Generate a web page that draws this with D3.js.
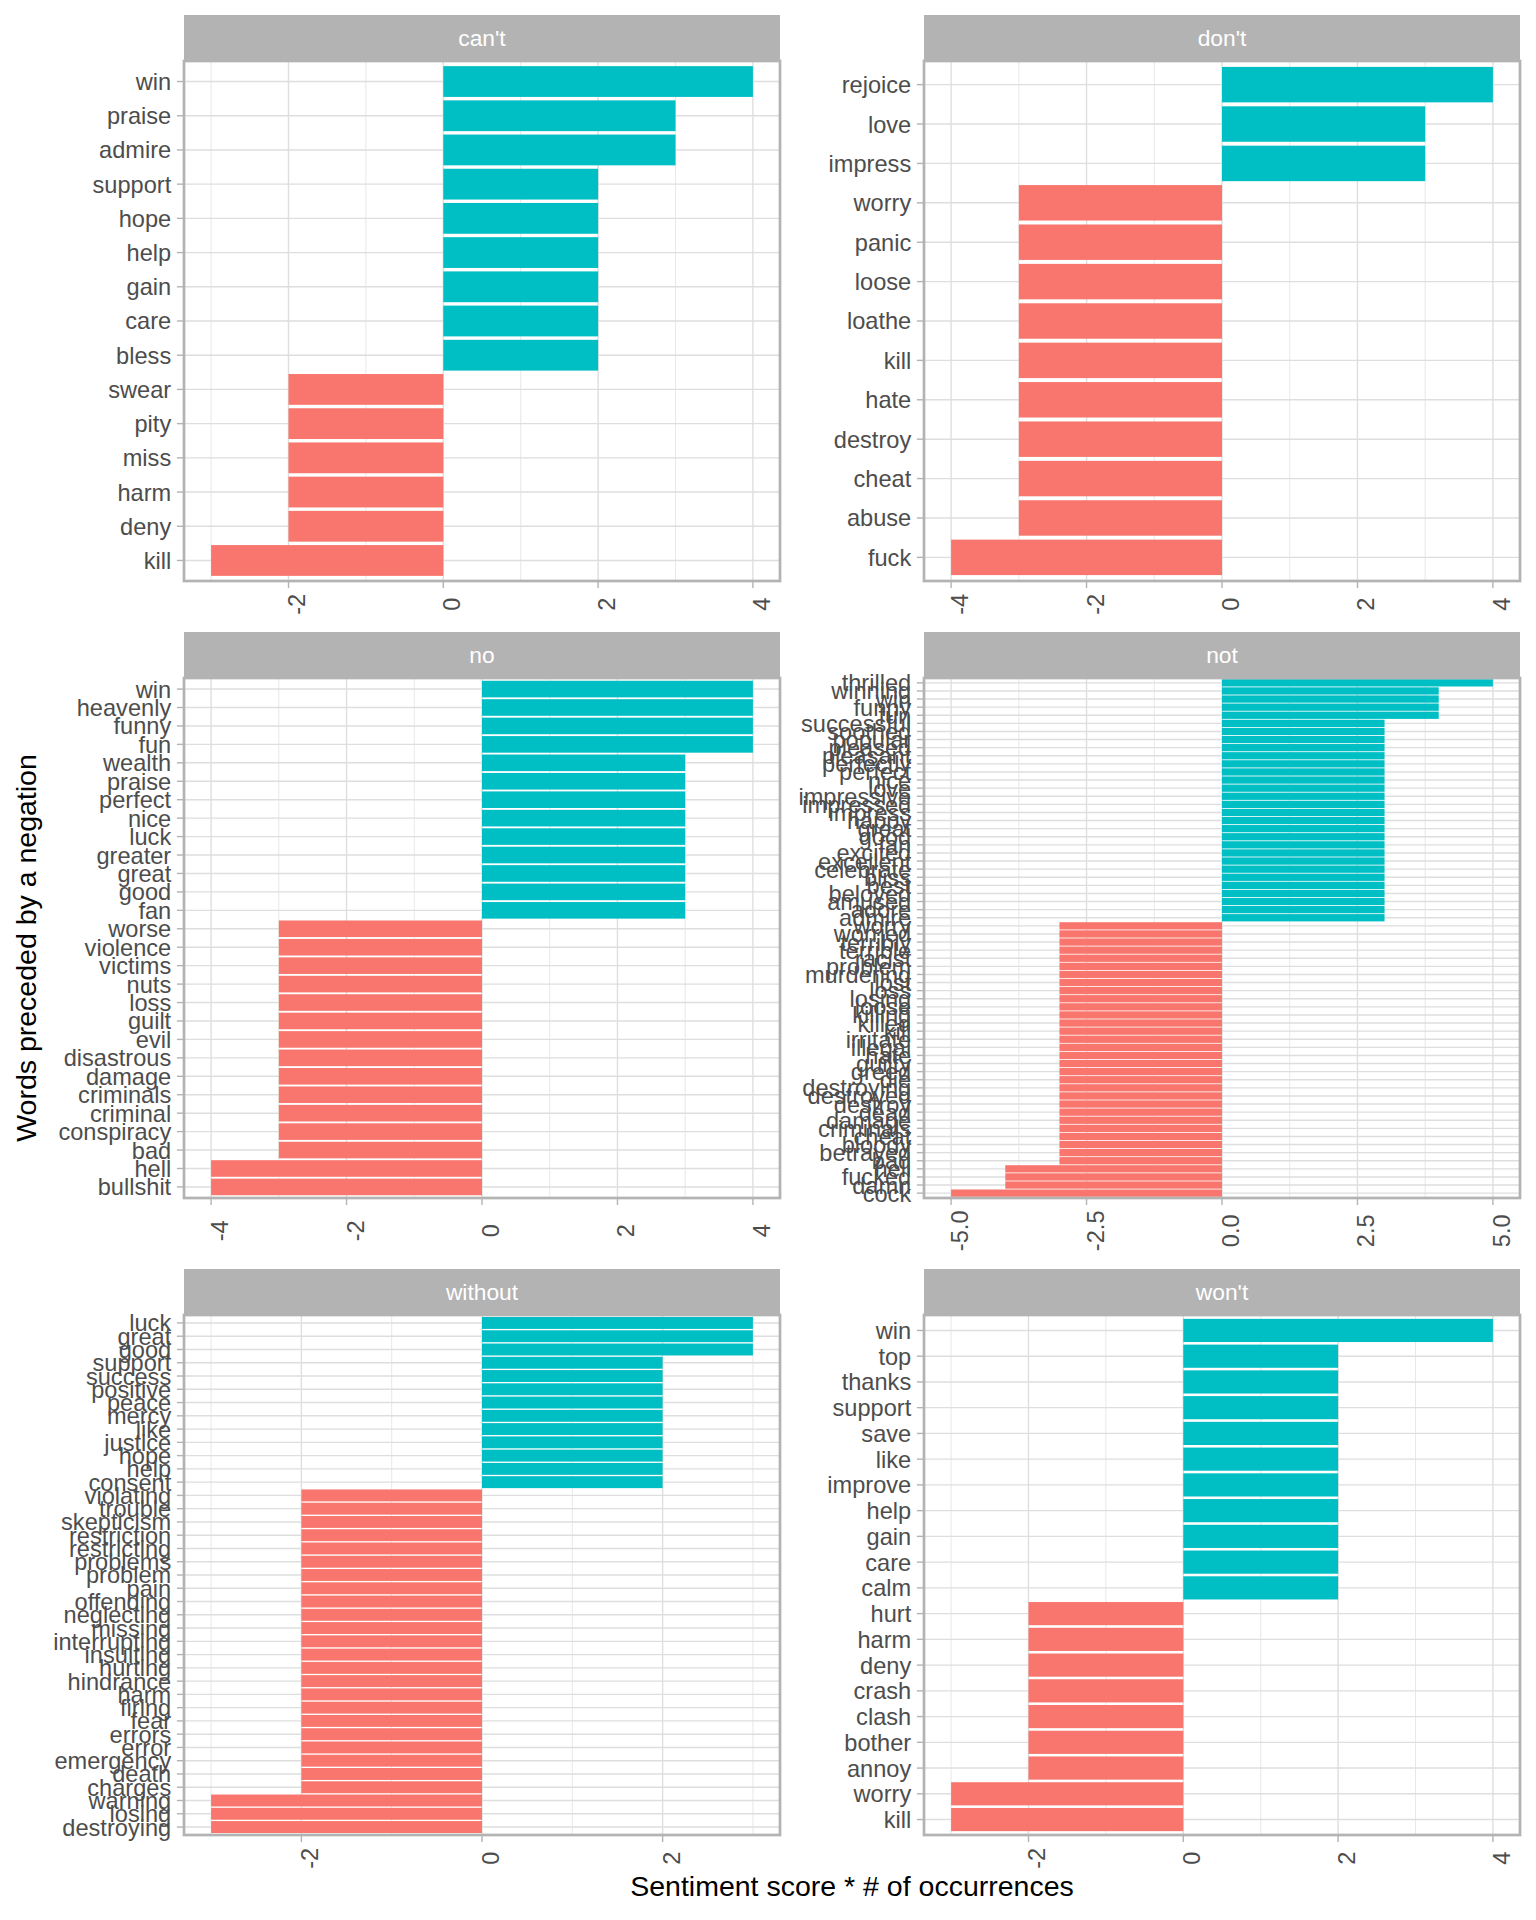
<!DOCTYPE html>
<html>
<head>
<meta charset="utf-8">
<script src="https://cdn.jsdelivr.net/npm/d3@7"></script>
<style>
  html, body { margin: 0; padding: 0; background: #fff; }
  svg { display: block; }
  text { font-family: "Liberation Sans", Arial, Helvetica, sans-serif; }
</style>
</head>
<body>
<svg id="chart" width="1536" height="1920"></svg>
<script>
// ---------------- DATA ----------------
const facetNames = ["can't", "don't", "no", "not", "without", "won't"];

const cantWords = ["win","praise","admire","support","hope","help","gain","care","bless","swear","pity","miss","harm","deny","kill"];
const cantValues = [4,3,3,2,2,2,2,2,2,-2,-2,-2,-2,-2,-3];

const dontWords = ["rejoice","love","impress","worry","panic","loose","loathe","kill","hate","destroy","cheat","abuse","fuck"];
const dontValues = [4,3,3,-3,-3,-3,-3,-3,-3,-3,-3,-3,-4];

const noWords = ["win","heavenly","funny","fun","wealth","praise","perfect","nice","luck","greater","great","good","fan",
  "worse","violence","victims","nuts","loss","guilt","evil","disastrous","damage","criminals","criminal","conspiracy","bad",
  "hell","bullshit"];
const noValues = [4,4,4,4,3,3,3,3,3,3,3,3,3,
  -3,-3,-3,-3,-3,-3,-3,-3,-3,-3,-3,-3,-3,
  -4,-4];

const notWords = ["thrilled","winning","win","funny","fun","successful","soothed","popular","pleased","pleasant",
  "perfectly","perfect","nice","love","impressive","impressed","impress","happy","great","good","fan","excited",
  "excellent","celebrate","bliss","best","beloved","amused","adore","admire",
  "worry","worried","terribly","terrible","racist","problem","murdering","lost","loss","losing","loose","killing",
  "killed","kill","irritate","illegal","hate","guilty","greed","die","destroying","destroyed","destroy","dead",
  "damage","criminals","cheat","bloody","betrayed","bad",
  "hell","fucked","damn","cock"];
const notValues = [5,4,4,4,4,3,3,3,3,3,
  3,3,3,3,3,3,3,3,3,3,3,3,
  3,3,3,3,3,3,3,3,
  -3,-3,-3,-3,-3,-3,-3,-3,-3,-3,-3,-3,
  -3,-3,-3,-3,-3,-3,-3,-3,-3,-3,-3,-3,
  -3,-3,-3,-3,-3,-3,
  -4,-4,-4,-5];

const withoutWords = ["luck","great","good","support","success","positive","peace","mercy","like","justice","hope","help","consent",
  "violating","trouble","skepticism","restriction","restricting","problems","problem","pain","offending","neglecting","missing",
  "interrupting","insulting","hurting","hindrance","harm","firing","fear","errors","error","emergency","death","charges",
  "warning","losing","destroying"];
const withoutValues = [3,3,3,2,2,2,2,2,2,2,2,2,2,
  -2,-2,-2,-2,-2,-2,-2,-2,-2,-2,-2,
  -2,-2,-2,-2,-2,-2,-2,-2,-2,-2,-2,-2,
  -3,-3,-3];

const wontWords = ["win","top","thanks","support","save","like","improve","help","gain","care","calm",
  "hurt","harm","deny","crash","clash","bother","annoy","worry","kill"];
const wontValues = [4,2,2,2,2,2,2,2,2,2,2,-2,-2,-2,-2,-2,-2,-2,-3,-3];

const cantTicks = [-2,0,2,4];
const dontTicks = [-4,-2,0,2,4];
const noTicks = [-4,-2,0,2,4];
const notTicks = [-5,-2.5,0,2.5,5];
const withoutTicks = [-2,0,2];
const wontTicks = [-2,0,2,4];

const cantTickLabels = ["-2","0","2","4"];
const dontTickLabels = ["-4","-2","0","2","4"];
const noTickLabels = ["-4","-2","0","2","4"];
const notTickLabels = ["-5.0","-2.5","0.0","2.5","5.0"];
const withoutTickLabels = ["-2","0","2"];
const wontTickLabels = ["-2","0","2","4"];

const xTitle = "Sentiment score * # of occurrences";
const yTitle = "Words preceded by a negation";

// ---------------- LAYOUT ----------------
const facets = [
  {name: facetNames[0], words: cantWords, values: cantValues, ticks: cantTicks, labels: cantTickLabels},
  {name: facetNames[1], words: dontWords, values: dontValues, ticks: dontTicks, labels: dontTickLabels},
  {name: facetNames[2], words: noWords, values: noValues, ticks: noTicks, labels: noTickLabels},
  {name: facetNames[3], words: notWords, values: notValues, ticks: notTicks, labels: notTickLabels},
  {name: facetNames[4], words: withoutWords, values: withoutValues, ticks: withoutTicks, labels: withoutTickLabels},
  {name: facetNames[5], words: wontWords, values: wontValues, ticks: wontTicks, labels: wontTickLabels}
];

const colX = [[184, 780], [924, 1520]];
const stripTops = [15, 632, 1269];
const stripH = 46;
const panelH = 520;
const axisFont = 23.6;
const stripFont = 22.8;
const titleFont = 28.5;
const gridCol = "#DEDEDE";
const frameCol = "#B3B3B3";
const posCol = "#00BFC4";
const negCol = "#F8766D";

const svg = d3.select("#chart");

facets.forEach((f, idx) => {
  const col = idx % 2, row = Math.floor(idx / 2);
  const x0 = colX[col][0], x1 = colX[col][1];
  const sTop = stripTops[row];
  const pTop = sTop + stripH, pBot = pTop + panelH;

  const vmin = Math.min(0, d3.min(f.values)), vmax = Math.max(0, d3.max(f.values));
  const ext = (vmax - vmin) * 0.05;
  const x = d3.scaleLinear().domain([vmin - ext, vmax + ext]).range([x0, x1]);
  const n = f.words.length;
  const y = d3.scaleLinear().domain([0.4, n + 0.6]).range([pBot, pTop]);
  const rows = f.words.map((w, k) => ({word: w, value: f.values[k], pos: n - k}));

  const g = svg.append("g");

  // strip
  g.append("rect").attr("x", x0).attr("y", sTop).attr("width", x1 - x0).attr("height", stripH)
    .attr("fill", "#B3B3B3");
  g.append("text").attr("x", (x0 + x1) / 2).attr("y", sTop + stripH / 2)
    .attr("text-anchor", "middle").attr("dy", "0.36em")
    .attr("fill", "#ffffff").attr("font-size", stripFont).text(f.name);

  // panel background
  g.append("rect").attr("x", x0).attr("y", pTop).attr("width", x1 - x0).attr("height", panelH).attr("fill", "#fff");

  // minor vertical gridlines
  const step = f.ticks[1] - f.ticks[0];
  const dom = x.domain();
  const minors = [];
  for (let i = -1; i < f.ticks.length; i++) {
    const m = f.ticks[0] + step * (i + 0.5);
    if (m >= dom[0] && m <= dom[1]) minors.push(m);
  }
  g.selectAll(".minor").data(minors).enter().append("line")
    .attr("x1", d => x(d)).attr("x2", d => x(d)).attr("y1", pTop).attr("y2", pBot)
    .attr("stroke", gridCol).attr("stroke-width", 0.7);

  // major vertical gridlines
  g.selectAll(".majorx").data(f.ticks).enter().append("line")
    .attr("x1", d => x(d)).attr("x2", d => x(d)).attr("y1", pTop).attr("y2", pBot)
    .attr("stroke", gridCol).attr("stroke-width", 1.4);

  // major horizontal gridlines
  g.selectAll(".majory").data(rows).enter().append("line")
    .attr("x1", x0).attr("x2", x1).attr("y1", d => y(d.pos)).attr("y2", d => y(d.pos))
    .attr("stroke", gridCol).attr("stroke-width", 1.4);

  // bars
  g.selectAll(".bar").data(rows).enter().append("rect")
    .attr("x", d => x(Math.min(0, d.value)))
    .attr("width", d => Math.abs(x(d.value) - x(0)))
    .attr("y", d => y(d.pos + 0.45))
    .attr("height", d => y(d.pos - 0.45) - y(d.pos + 0.45))
    .attr("fill", d => d.value > 0 ? posCol : negCol);

  // panel border
  g.append("rect").attr("x", x0).attr("y", pTop).attr("width", x1 - x0).attr("height", panelH)
    .attr("fill", "none").attr("stroke", frameCol).attr("stroke-width", 2.7);

  // y axis ticks and labels
  g.selectAll(".ytick").data(rows).enter().append("line")
    .attr("x1", x0 - 7.1).attr("x2", x0).attr("y1", d => y(d.pos)).attr("y2", d => y(d.pos))
    .attr("stroke", frameCol).attr("stroke-width", 1.4);
  g.selectAll(".ylab").data(rows).enter().append("text")
    .attr("x", x0 - 12.8).attr("y", d => y(d.pos)).attr("dy", "0.36em")
    .attr("text-anchor", "end").attr("fill", "#4D4D4D").attr("font-size", axisFont)
    .text(d => d.word);

  // x axis ticks and labels
  g.selectAll(".xtick").data(f.ticks).enter().append("line")
    .attr("x1", d => x(d)).attr("x2", d => x(d)).attr("y1", pBot).attr("y2", pBot + 7.1)
    .attr("stroke", frameCol).attr("stroke-width", 1.4);
  g.selectAll(".xlab").data(f.ticks).enter().append("text")
    .attr("transform", d => {
      const maxW = row === 1 ? 40 : 21;
      return `translate(${x(d)},${pBot + 7.1 + 5.7 + maxW / 2}) rotate(-90)`;
    })
    .attr("text-anchor", "middle").attr("dy", "0.72em")
    .attr("fill", "#4D4D4D").attr("font-size", axisFont)
    .text((d, i) => f.labels[i]);
});

// axis titles
svg.append("text").attr("x", 852).attr("y", 1886).attr("dy", "0.36em")
  .attr("text-anchor", "middle").attr("fill", "#000").attr("font-size", titleFont).text(xTitle);
svg.append("text").attr("transform", "translate(26,948) rotate(-90)").attr("dy", "0.36em")
  .attr("text-anchor", "middle").attr("fill", "#000").attr("font-size", titleFont).text(yTitle);
</script>
</body>
</html>
